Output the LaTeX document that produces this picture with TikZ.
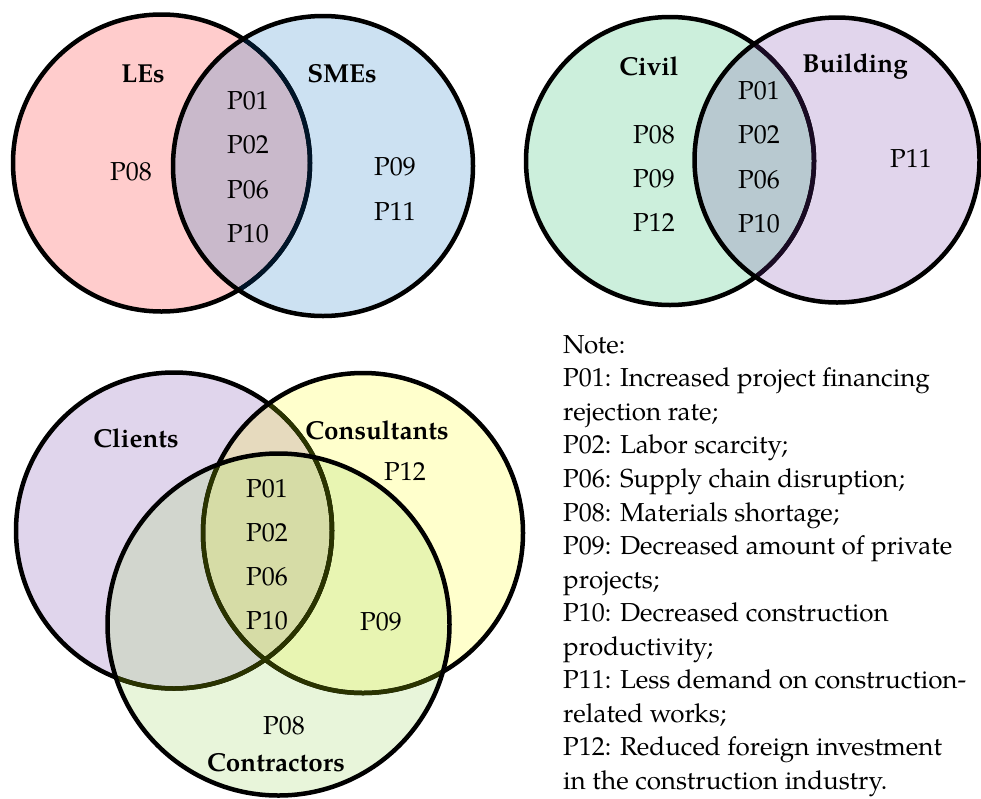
\documentclass[tikz,border=0pt]{standalone}
\usepackage{fontspec}
\setmainfont{TeX Gyre Pagella}
\definecolor{lesC}{HTML}{FFCCCC}
\definecolor{smeC}{HTML}{CCE1F2}
\definecolor{lensA}{HTML}{C9B9CB}
\definecolor{darkA}{HTML}{001428}
\definecolor{civC}{HTML}{CCEFDC}
\definecolor{bldC}{HTML}{E1D5EC}
\definecolor{lensB}{HTML}{B8C9D0}
\definecolor{darkB}{HTML}{190A23}
\definecolor{cliC}{HTML}{E0D5EC}
\definecolor{conC}{HTML}{FFFFCC}
\definecolor{ctrC}{HTML}{E8F5DA}
\definecolor{cliconC}{HTML}{E6DABE}
\definecolor{clictrC}{HTML}{D2D6CE}
\definecolor{conctrC}{HTML}{E8F5B2}
\definecolor{tripleC}{HTML}{D6DCA6}
\definecolor{darkC}{HTML}{2A3300}
\tikzset{
  lbl/.style={anchor=base, inner sep=0pt, font=\fontsize{26}{30}\selectfont},
  blbl/.style={anchor=base, inner sep=0pt, font=\fontsize{26}{30}\selectfont\bfseries},
  notel/.style={anchor=base west, inner sep=0pt, font=\fontsize{26}{30}\selectfont},
  ring/.style={line width=4.5pt}
}
\begin{document}
\begin{tikzpicture}[x=1pt,y=-1pt]
\useasboundingbox (0,0) rectangle (981,798);
% ---------- top-left: LEs / SMEs ----------
\coordinate (cL) at (161.5,163);
\coordinate (cS) at (323,166);
\def\rL{148.5pt}\def\rS{150pt}
\fill[lesC] (cL) circle[radius=\rL];
\fill[smeC] (cS) circle[radius=\rS];
\begin{scope}\clip (cL) circle[radius=\rL];\fill[lensA] (cS) circle[radius=\rS];\end{scope}
\draw[ring] (cL) circle[radius=\rL];
\begin{scope}\clip (cS) circle[radius=\rS];\draw[ring,darkA] (cL) circle[radius=\rL];\end{scope}
\draw[ring] (cS) circle[radius=\rS];
\node[blbl] (les) at (143,82) {LEs};
\node[blbl] (sme) at (342,82) {SMEs};
\node[lbl] (a01) at (248,109) {P01};
\node[lbl] (a02) at (248,153) {P02};
\node[lbl] (a06) at (248,198) {P06};
\node[lbl] (a10) at (248,242) {P10};
\node[lbl] (a08) at (131,180) {P08};
\node[lbl] (a09) at (395,175) {P09};
\node[lbl] (a11) at (395,220) {P11};
% ---------- top-right: Civil / Building ----------
\coordinate (cC) at (670,161);
\coordinate (cB) at (837,160);
\def\rC{144pt}\def\rB{142.5pt}
\fill[civC] (cC) circle[radius=\rC];
\fill[bldC] (cB) circle[radius=\rB];
\begin{scope}\clip (cC) circle[radius=\rC];\fill[lensB] (cB) circle[radius=\rB];\end{scope}
\draw[ring] (cC) circle[radius=\rC];
\begin{scope}\clip (cB) circle[radius=\rB];\draw[ring,darkB] (cC) circle[radius=\rC];\end{scope}
\draw[ring] (cB) circle[radius=\rB];
\node[blbl] (civ) at (649,75) {Civil};
\node[blbl] (bld) at (855,72) {Building};
\node[lbl] (b01) at (759,99) {P01};
\node[lbl] (b02) at (759,143) {P02};
\node[lbl] (b06) at (759,188) {P06};
\node[lbl] (b10) at (759,232) {P10};
\node[lbl] (b08) at (654,143) {P08};
\node[lbl] (b09) at (654,187) {P09};
\node[lbl] (b12) at (654,231) {P12};
\node[lbl] (b11) at (911,167) {P11};
% ---------- bottom: Clients / Consultants / Contractors ----------
\coordinate (cK) at (174,530.5);
\coordinate (cN) at (363,533);
\coordinate (cT) at (278.5,624.5);
\def\rK{158pt}\def\rN{160pt}\def\rT{171pt}
\fill[cliC] (cK) circle[radius=\rK];
\fill[conC] (cN) circle[radius=\rN];
\fill[ctrC] (cT) circle[radius=\rT];
\begin{scope}\clip (cK) circle[radius=\rK];\fill[cliconC] (cN) circle[radius=\rN];\end{scope}
\begin{scope}\clip (cK) circle[radius=\rK];\fill[clictrC] (cT) circle[radius=\rT];\end{scope}
\begin{scope}\clip (cN) circle[radius=\rN];\fill[conctrC] (cT) circle[radius=\rT];\end{scope}
\begin{scope}\clip (cK) circle[radius=\rK];\clip (cN) circle[radius=\rN];\fill[tripleC] (cT) circle[radius=\rT];\end{scope}
\draw[ring] (cK) circle[radius=\rK];
\begin{scope}\clip (cN) circle[radius=\rN];\draw[ring,darkC] (cK) circle[radius=\rK];\end{scope}
\draw[ring] (cN) circle[radius=\rN];
\begin{scope}\clip (cT) circle[radius=\rT];
  \draw[ring,darkC] (cK) circle[radius=\rK];
  \draw[ring,darkC] (cN) circle[radius=\rN];
\end{scope}
\draw[ring] (cT) circle[radius=\rT];
\node[blbl] (cli) at (136,447) {Clients};
\node[blbl] (con) at (377,439) {Consultants};
\node[blbl] (ctr) at (276,771) {Contractors};
\node[lbl] (c12) at (405,480) {P12};
\node[lbl] (c01) at (267,497) {P01};
\node[lbl] (c02) at (267,541.5) {P02};
\node[lbl] (c06) at (267,585.5) {P06};
\node[lbl] (c10) at (267,629.5) {P10};
\node[lbl] (c09) at (381,630) {P09};
\node[lbl] (c08) at (284,734) {P08};
% ---------- note ----------
\node[notel] (n0) at (563,353) {Note:};
\node[notel] (n1) at (563,386.5) {P01: Increased project financing};
\node[notel] (n2) at (563,420) {rejection rate;};
\node[notel] (n3) at (563,453.5) {P02: Labor scarcity;};
\node[notel] (n4) at (563,487.5) {P06: Supply chain disruption;};
\node[notel] (n5) at (563,521) {P08: Materials shortage;};
\node[notel] (n6) at (563,554.5) {P09: Decreased amount of private};
\node[notel] (n7) at (563,588) {projects;};
\node[notel] (n8) at (563,621.5) {P10: Decreased construction};
\node[notel] (n9) at (563,655) {productivity;};
\node[notel] (n10) at (563,688.5) {P11: Less demand on construction-};
\node[notel] (n11) at (563,722) {related works;};
\node[notel] (n12) at (563,755.5) {P12: Reduced foreign investment};
\node[notel] (n13) at (563,789) {in the construction industry.};
\end{tikzpicture}
\end{document}
